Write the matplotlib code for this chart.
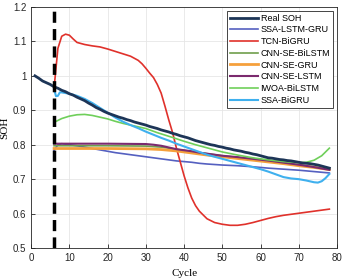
import matplotlib
matplotlib.use("Agg")
import matplotlib.pyplot as plt

# Real SOH, cycles 1..78
real_x = list(range(1, 79))
real_y = [1.000, 0.993, 0.985, 0.980, 0.975, 0.968, 0.964, 0.958, 0.954, 0.948,
          0.944, 0.938, 0.933, 0.928, 0.921, 0.915, 0.908, 0.903, 0.897, 0.892,
          0.888, 0.884, 0.880, 0.877, 0.873, 0.870, 0.866, 0.863, 0.860, 0.857,
          0.853, 0.850, 0.847, 0.843, 0.840, 0.837, 0.833, 0.830, 0.826, 0.823,
          0.820, 0.816, 0.812, 0.809, 0.806, 0.803, 0.800, 0.798, 0.795, 0.793,
          0.790, 0.788, 0.785, 0.783, 0.781, 0.778, 0.776, 0.773, 0.771, 0.768,
          0.765, 0.762, 0.761, 0.759, 0.757, 0.756, 0.754, 0.753, 0.751, 0.749,
          0.747, 0.746, 0.745, 0.743, 0.741, 0.738, 0.735, 0.732]

lstm_gru_x = [6, 7, 8, 10, 12, 14, 16, 18, 20, 22, 24, 26, 28, 30, 32, 34, 36, 38, 40,
              42, 44, 46, 50, 54, 58, 62, 66, 70, 74, 78]
lstm_gru_y = [0.784, 0.800, 0.803, 0.800, 0.797, 0.793, 0.789, 0.785, 0.781, 0.777,
              0.774, 0.771, 0.768, 0.765, 0.762, 0.759, 0.756, 0.753, 0.751, 0.749,
              0.746, 0.744, 0.741, 0.739, 0.736, 0.732, 0.729, 0.726, 0.722, 0.718]

tcn_x = [6, 7, 8, 9, 10, 11, 12, 14, 16, 18, 20, 22, 24, 26, 28, 29, 30, 31, 32, 33,
         34, 35, 36, 37, 38, 39, 40, 41, 42, 43, 44, 46, 48, 50, 52, 54, 56, 58, 60,
         62, 64, 66, 68, 70, 72, 74, 76, 78]
tcn_y = [0.965, 1.080, 1.115, 1.121, 1.118, 1.107, 1.097, 1.091, 1.087, 1.084, 1.078,
         1.071, 1.064, 1.057, 1.045, 1.035, 1.022, 1.008, 0.995, 0.975, 0.950, 0.912,
         0.872, 0.835, 0.790, 0.750, 0.710, 0.675, 0.645, 0.623, 0.607, 0.585, 0.574,
         0.569, 0.566, 0.566, 0.569, 0.574, 0.580, 0.586, 0.591, 0.595, 0.598, 0.601,
         0.604, 0.607, 0.610, 0.613]

bilstm_x = [6, 10, 20, 30, 34, 38, 42, 46, 50, 54, 58, 62, 66, 70, 74, 78]
bilstm_y = [0.797, 0.797, 0.797, 0.796, 0.793, 0.787, 0.780, 0.774, 0.768, 0.763,
            0.757, 0.752, 0.747, 0.741, 0.736, 0.730]

gru_x = [6, 10, 20, 30, 34, 38, 42, 46, 50, 54, 58, 62, 66, 70, 74, 78]
gru_y = [0.789, 0.789, 0.789, 0.788, 0.786, 0.782, 0.776, 0.770, 0.765, 0.760,
         0.755, 0.750, 0.745, 0.739, 0.734, 0.728]

lstm_x = [6, 10, 20, 30, 32, 34, 36, 38, 40, 42, 44, 46, 50, 54, 58, 62, 66, 70, 74, 78]
lstm_y = [0.803, 0.803, 0.803, 0.802, 0.800, 0.797, 0.792, 0.787, 0.784, 0.781,
          0.777, 0.774, 0.768, 0.764, 0.759, 0.754, 0.748, 0.742, 0.735, 0.727]

iwoa_x = [6, 8, 10, 12, 14, 16, 18, 20, 22, 24, 26, 28, 30, 33, 35, 37, 40, 43, 47,
          50, 54, 58, 62, 66, 70, 72, 74, 76, 78]
iwoa_y = [0.865, 0.876, 0.883, 0.887, 0.888, 0.885, 0.880, 0.875, 0.868, 0.862,
          0.857, 0.852, 0.847, 0.835, 0.828, 0.821, 0.810, 0.800, 0.788, 0.779,
          0.770, 0.762, 0.756, 0.751, 0.748, 0.749, 0.755, 0.768, 0.790]

bigru_x = [6, 6.5, 7, 7.5, 8, 10, 12, 14, 16, 18, 20, 22, 24, 26, 28, 30, 32, 34, 36,
           38, 40, 42, 44, 46, 48, 50, 52, 54, 56, 58, 60, 62, 64, 66, 68, 70, 72,
           74, 75, 76, 77, 78]
bigru_y = [0.962, 0.941, 0.942, 0.952, 0.952, 0.948, 0.942, 0.933, 0.921, 0.907,
           0.893, 0.879, 0.867, 0.857, 0.848, 0.838, 0.829, 0.820, 0.812, 0.803,
           0.795, 0.787, 0.779, 0.771, 0.765, 0.759, 0.753, 0.747, 0.741, 0.735,
           0.729, 0.722, 0.714, 0.706, 0.702, 0.700, 0.696, 0.691, 0.690, 0.694,
           0.703, 0.715]

split_cycle = 6

plt.rcParams['font.family'] = ['Liberation Sans', 'DejaVu Sans']

fig = plt.figure(figsize=(3.46, 2.79), dpi=100)
ax = fig.add_axes([0.090, 0.111, 0.884, 0.864])

ax.plot(real_x, real_y, color='#1d3557', lw=2.0, label='Real SOH', zorder=5)
ax.plot(lstm_gru_x, lstm_gru_y, color='#5560c0', lw=1.2, label='SSA-LSTM-GRU')
ax.plot(tcn_x, tcn_y, color='#e0312b', lw=1.2, label='TCN-BiGRU')
ax.plot(bilstm_x, bilstm_y, color='#6f9e4c', lw=1.2, label='CNN-SE-BiLSTM')
ax.plot(gru_x, gru_y, color='#f5a03c', lw=2.0, label='CNN-SE-GRU')
ax.plot(lstm_x, lstm_y, color='#7b2a6e', lw=1.5, label='CNN-SE-LSTM')
ax.plot(iwoa_x, iwoa_y, color='#6fcf5a', lw=1.2, label='IWOA-BiLSTM')
ax.plot(bigru_x, bigru_y, color='#3fb0ee', lw=1.5, label='SSA-BiGRU')

ax.axvline(split_cycle, color='black', lw=2.5, ls=(0, (3.2, 1.8)), zorder=6)

ax.set_xlim(0, 80)
ax.set_ylim(0.5, 1.2)
ax.set_xticks(range(0, 81, 10))
ax.set_yticks([0.5, 0.6, 0.7, 0.8, 0.9, 1.0, 1.1, 1.2])
ax.set_yticklabels(['0.5', '0.6', '0.7', '0.8', '0.9', '1', '1.1', '1.2'])
ax.tick_params(direction='in', labelsize=7, colors='#262626', length=3, width=0.6)
ax.grid(True, color='#e6e6e6', lw=0.6)
for s in ax.spines.values():
    s.set_color('#262626')
    s.set_linewidth(0.6)

ax.set_xlabel('Cycle', family='Liberation Serif', fontsize=8)
ax.set_ylabel('SOH', family='Liberation Serif', fontsize=8)
ax.xaxis.set_label_coords(0.5, -0.085)
ax.yaxis.set_label_coords(-0.07, 0.5)

leg = ax.legend(loc='upper right', fontsize=6.5, handlelength=3.1, handletextpad=0.3,
                labelspacing=0.3, borderpad=0.35, fancybox=False, framealpha=1,
                edgecolor='#262626', borderaxespad=0.4)
leg.get_frame().set_linewidth(0.6)

fig.savefig('out.png', dpi=100)
